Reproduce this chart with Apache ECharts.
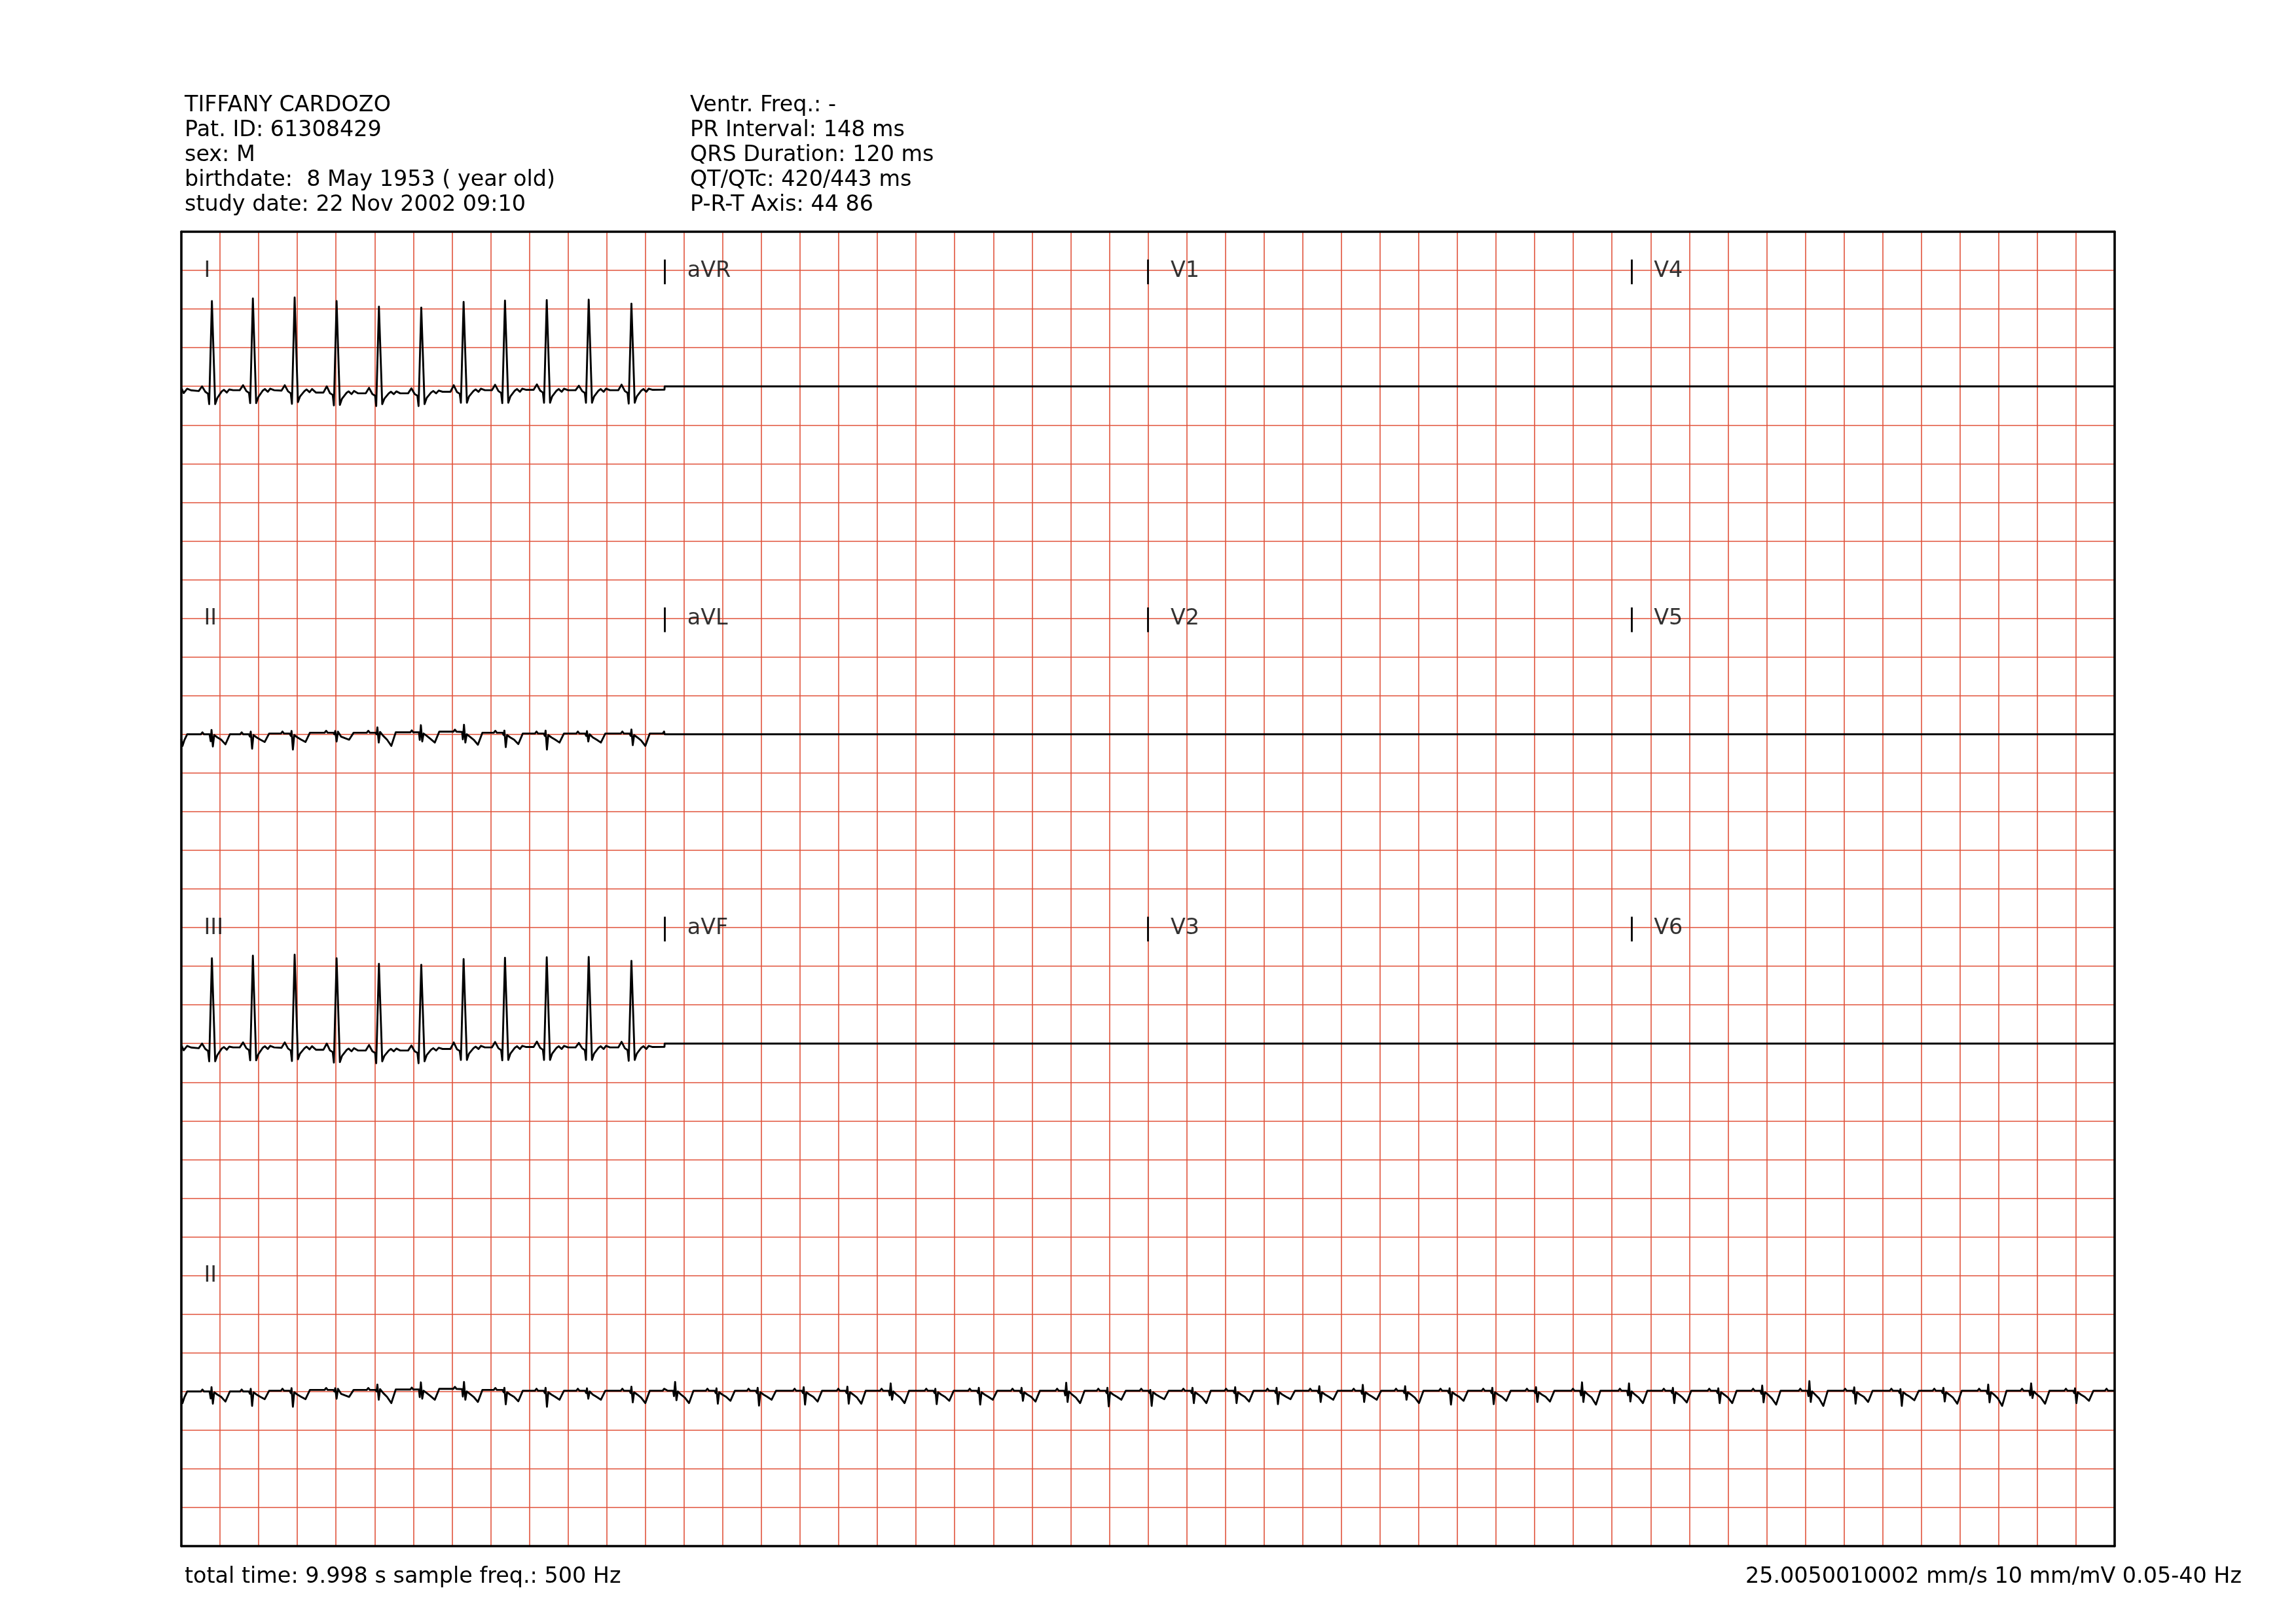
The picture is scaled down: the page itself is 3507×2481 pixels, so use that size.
<!DOCTYPE html>
<html><head><meta charset="utf-8">
<script src="https://cdn.jsdelivr.net/npm/echarts@6/dist/echarts.min.js"></script>
<style>html,body{margin:0;padding:0;background:#fff;}#c{width:3507px;height:2481px;}</style>
</head><body><div id="c"></div>
<script>
// ---------- text ----------
const headerLeft = ['TIFFANY CARDOZO','Pat. ID: 61308429','sex: M','birthdate:  8 May 1953 ( year old)','study date: 22 Nov 2002 09:10'];
const headerRight = ['Ventr. Freq.: -','PR Interval: 148 ms','QRS Duration: 120 ms','QT/QTc: 420/443 ms','P-R-T Axis: 44 86'];
const footerLeft = 'total time: 9.998 s sample freq.: 500 Hz';
const footerRight = '25.0050010002 mm/s 10 mm/mV 0.05-40 Hz';

// ---------- layout of leads ----------
const rowLeads = [['I','aVR','V1','V4'],['II','aVL','V2','V5'],['III','aVF','V3','V6']];
const rhythmLead = 'II';

// ---------- signals (time s, mV) ----------
const leadI = [
[0.000,-0.02],[0.012,-0.087],[0.030,-0.031],[0.050,-0.051],
[0.090,-0.06],[0.107,0.0],[0.124,-0.07],[0.138,-0.095],[0.144,-0.23],[0.158,1.103],[0.175,-0.23],[0.186,-0.15],[0.209,-0.065],[0.220,-0.045],[0.235,-0.08],[0.248,-0.04],[0.268,-0.05],
[0.302,-0.05],[0.319,0.014],[0.336,-0.06],[0.350,-0.085],[0.356,-0.217],[0.370,1.137],[0.387,-0.217],[0.398,-0.14],[0.421,-0.055],[0.432,-0.035],[0.447,-0.07],[0.460,-0.03],[0.480,-0.05],
[0.518,-0.055],[0.535,0.014],[0.552,-0.065],[0.566,-0.09],[0.572,-0.226],[0.586,1.149],[0.603,-0.203],[0.614,-0.13],[0.637,-0.06],[0.648,-0.04],[0.663,-0.075],[0.676,-0.035],[0.696,-0.08],
[0.735,-0.08],[0.752,0.0],[0.769,-0.09],[0.783,-0.11],[0.789,-0.246],[0.803,1.103],[0.820,-0.24],[0.831,-0.16],[0.854,-0.085],[0.865,-0.065],[0.880,-0.1],[0.893,-0.06],[0.913,-0.09],
[0.954,-0.09],[0.971,-0.02],[0.988,-0.1],[1.002,-0.12],[1.008,-0.254],[1.022,1.030],[1.039,-0.23],[1.050,-0.16],[1.073,-0.09],[1.084,-0.07],[1.099,-0.1],[1.112,-0.065],[1.132,-0.09],
[1.173,-0.09],[1.190,-0.025],[1.207,-0.1],[1.221,-0.12],[1.227,-0.254],[1.241,1.019],[1.258,-0.23],[1.269,-0.15],[1.292,-0.08],[1.303,-0.06],[1.318,-0.09],[1.331,-0.055],[1.351,-0.07],
[1.392,-0.07],[1.409,0.014],[1.426,-0.075],[1.440,-0.095],[1.446,-0.212],[1.460,1.092],[1.477,-0.212],[1.488,-0.13],[1.511,-0.06],[1.522,-0.04],[1.537,-0.07],[1.550,-0.03],[1.570,-0.05],
[1.606,-0.05],[1.623,0.02],[1.640,-0.06],[1.654,-0.085],[1.660,-0.217],[1.674,1.109],[1.691,-0.212],[1.702,-0.13],[1.725,-0.055],[1.736,-0.035],[1.751,-0.07],[1.764,-0.03],[1.784,-0.045],
[1.822,-0.045],[1.839,0.025],[1.856,-0.055],[1.870,-0.08],[1.876,-0.212],[1.890,1.115],[1.907,-0.212],[1.918,-0.13],[1.941,-0.055],[1.952,-0.035],[1.967,-0.07],[1.980,-0.03],[2.000,-0.05],
[2.039,-0.05],[2.056,0.008],[2.073,-0.06],[2.087,-0.085],[2.093,-0.212],[2.107,1.121],[2.124,-0.212],[2.135,-0.13],[2.158,-0.055],[2.169,-0.035],[2.184,-0.07],[2.197,-0.03],[2.217,-0.05],
[2.260,-0.05],[2.277,0.022],[2.294,-0.06],[2.308,-0.085],[2.314,-0.223],[2.328,1.070],[2.345,-0.212],[2.356,-0.13],[2.379,-0.055],[2.390,-0.035],[2.405,-0.07],[2.418,-0.03],[2.438,-0.045],[2.499,-0.042]
];
// lead III is drawn identical to lead I in the reference
const leadIII = leadI;

const leadII = [
[0.000,-0.06],[0.006,-0.15],[0.015,-0.08],[0.030,0.0],
[0.101,0.0],[0.109,0.025],[0.117,0.0],[0.146,0.0],[0.152,-0.09],[0.156,0.056],[0.163,-0.158],[0.170,-0.01],[0.186,-0.04],[0.206,-0.07],[0.228,-0.13],[0.251,0.0],
[0.304,0.0],[0.312,0.025],[0.320,0.0],[0.349,0.0],[0.355,-0.03],[0.359,0.034],[0.366,-0.186],[0.373,-0.01],[0.389,-0.04],[0.409,-0.07],[0.431,-0.10],[0.454,0.01],
[0.515,0.01],[0.523,0.035],[0.531,0.01],[0.560,0.01],[0.566,-0.02],[0.570,0.042],[0.577,-0.198],[0.584,-0.01],[0.600,-0.04],[0.620,-0.07],[0.642,-0.10],[0.665,0.02],
[0.741,0.02],[0.749,0.045],[0.757,0.02],[0.786,0.02],[0.792,0.0],[0.796,0.042],[0.803,-0.093],[0.810,0.034],[0.826,-0.03],[0.846,-0.05],[0.868,-0.07],[0.891,0.02],
[0.959,0.02],[0.967,0.045],[0.975,0.02],[1.004,0.02],[1.010,0.0],[1.014,0.09],[1.021,-0.107],[1.028,0.03],[1.044,-0.02],[1.064,-0.07],[1.086,-0.15],[1.109,0.025],
[1.184,0.025],[1.192,0.05],[1.200,0.025],[1.229,0.025],[1.233,-0.073],[1.239,0.118],[1.246,-0.093],[1.253,0.01],[1.269,-0.02],[1.289,-0.06],[1.311,-0.107],[1.334,0.034],
[1.407,0.034],[1.415,0.06],[1.423,0.034],[1.452,0.03],[1.456,-0.065],[1.462,0.124],[1.469,-0.107],[1.476,0.0],[1.492,-0.03],[1.512,-0.07],[1.534,-0.135],[1.557,0.02],
[1.616,0.02],[1.624,0.045],[1.632,0.02],[1.661,0.02],[1.667,-0.01],[1.671,0.048],[1.678,-0.166],[1.685,-0.01],[1.701,-0.04],[1.721,-0.07],[1.743,-0.127],[1.766,0.01],
[1.829,0.01],[1.837,0.035],[1.845,0.01],[1.874,0.01],[1.880,-0.02],[1.884,0.048],[1.891,-0.198],[1.898,-0.01],[1.914,-0.04],[1.934,-0.07],[1.956,-0.107],[1.979,0.01],
[2.043,0.01],[2.051,0.035],[2.059,0.01],[2.088,0.01],[2.094,-0.02],[2.098,0.04],[2.105,-0.093],[2.112,0.0],[2.128,-0.04],[2.148,-0.07],[2.170,-0.107],[2.193,0.01],
[2.273,0.01],[2.281,0.035],[2.289,0.01],[2.318,0.01],[2.324,-0.02],[2.328,0.062],[2.335,-0.141],[2.342,-0.01],[2.358,-0.04],[2.378,-0.08],[2.400,-0.15],[2.423,0.01],
[2.490,0.01],[2.497,0.035],[2.515,0.01],[2.544,0.01],[2.548,-0.06],[2.554,0.124],[2.561,-0.113],[2.568,0.0],[2.584,-0.04],[2.604,-0.08],[2.626,-0.15],[2.649,0.01],
[2.713,0.01],[2.721,0.035],[2.729,0.01],[2.758,0.01],[2.764,-0.02],[2.768,0.04],[2.775,-0.158],[2.782,-0.01],[2.798,-0.04],[2.818,-0.07],[2.840,-0.121],[2.863,0.01],
[2.926,0.01],[2.934,0.035],[2.942,0.01],[2.971,0.01],[2.977,-0.02],[2.981,0.048],[2.988,-0.183],[2.995,-0.01],[3.011,-0.04],[3.031,-0.07],[3.053,-0.107],[3.076,0.01],
[3.164,0.01],[3.172,0.035],[3.180,0.01],[3.209,0.01],[3.215,-0.02],[3.219,0.056],[3.226,-0.169],[3.233,-0.01],[3.249,-0.04],[3.269,-0.07],[3.291,-0.13],[3.314,0.01],
[3.390,0.01],[3.398,0.035],[3.406,0.01],[3.435,0.01],[3.441,-0.02],[3.445,0.062],[3.452,-0.158],[3.459,-0.01],[3.475,-0.04],[3.495,-0.08],[3.517,-0.158],[3.540,0.01],
[3.614,0.01],[3.622,0.035],[3.630,0.01],[3.659,0.01],[3.664,-0.05],[3.669,0.104],[3.676,-0.107],[3.683,0.0],[3.699,-0.04],[3.719,-0.08],[3.741,-0.15],[3.764,0.01],
[3.845,0.01],[3.853,0.035],[3.861,0.01],[3.890,0.01],[3.896,-0.02],[3.900,0.034],[3.907,-0.164],[3.914,-0.01],[3.930,-0.04],[3.950,-0.07],[3.972,-0.121],[3.995,0.01],
[4.070,0.01],[4.078,0.035],[4.086,0.01],[4.115,0.01],[4.121,-0.02],[4.125,0.048],[4.132,-0.169],[4.139,-0.01],[4.155,-0.04],[4.175,-0.07],[4.197,-0.107],[4.220,0.01],
[4.291,0.01],[4.299,0.035],[4.307,0.01],[4.336,0.01],[4.342,-0.02],[4.346,0.048],[4.353,-0.121],[4.360,-0.01],[4.376,-0.04],[4.396,-0.07],[4.418,-0.13],[4.441,0.01],
[4.522,0.01],[4.530,0.035],[4.538,0.01],[4.567,0.01],[4.572,-0.05],[4.577,0.113],[4.584,-0.135],[4.591,0.0],[4.607,-0.04],[4.627,-0.08],[4.649,-0.15],[4.672,0.01],
[4.735,0.01],[4.743,0.035],[4.751,0.01],[4.780,0.01],[4.786,-0.02],[4.790,0.048],[4.797,-0.192],[4.804,-0.01],[4.820,-0.04],[4.840,-0.07],[4.862,-0.107],[4.885,0.01],
[4.957,0.01],[4.965,0.035],[4.973,0.01],[5.002,0.01],[5.008,-0.02],[5.012,0.02],[5.019,-0.186],[5.026,-0.01],[5.042,-0.04],[5.062,-0.07],[5.084,-0.10],[5.107,0.01],
[5.175,0.01],[5.183,0.035],[5.191,0.01],[5.220,0.01],[5.226,-0.02],[5.230,0.048],[5.237,-0.15],[5.244,-0.01],[5.260,-0.04],[5.280,-0.08],[5.302,-0.15],[5.325,0.01],
[5.396,0.01],[5.404,0.035],[5.412,0.01],[5.441,0.01],[5.447,-0.02],[5.451,0.056],[5.458,-0.15],[5.465,-0.01],[5.481,-0.04],[5.501,-0.07],[5.523,-0.13],[5.546,0.01],
[5.610,0.01],[5.618,0.035],[5.626,0.01],[5.655,0.01],[5.661,-0.02],[5.665,0.048],[5.672,-0.164],[5.679,-0.01],[5.695,-0.04],[5.715,-0.07],[5.737,-0.10],[5.760,0.01],
[5.831,0.01],[5.839,0.035],[5.847,0.01],[5.876,0.01],[5.882,-0.02],[5.886,0.068],[5.893,-0.135],[5.900,-0.01],[5.916,-0.04],[5.936,-0.07],[5.958,-0.107],[5.981,0.01],
[6.056,0.01],[6.064,0.035],[6.072,0.01],[6.101,0.01],[6.107,-0.03],[6.111,0.085],[6.118,-0.135],[6.125,-0.01],[6.141,-0.04],[6.161,-0.07],[6.183,-0.107],[6.206,0.01],
[6.275,0.01],[6.283,0.035],[6.291,0.01],[6.320,0.01],[6.326,-0.02],[6.330,0.068],[6.337,-0.107],[6.344,-0.01],[6.360,-0.04],[6.380,-0.08],[6.402,-0.15],[6.425,0.01],
[6.505,0.01],[6.513,0.035],[6.521,0.01],[6.550,0.01],[6.556,-0.02],[6.560,0.04],[6.567,-0.169],[6.574,-0.01],[6.590,-0.04],[6.610,-0.07],[6.632,-0.121],[6.655,0.01],
[6.726,0.01],[6.734,0.035],[6.742,0.01],[6.771,0.01],[6.777,-0.02],[6.781,0.048],[6.788,-0.164],[6.795,-0.01],[6.811,-0.04],[6.831,-0.07],[6.853,-0.121],[6.876,0.01],
[6.952,0.01],[6.960,0.035],[6.968,0.01],[6.997,0.01],[7.003,-0.02],[7.007,0.056],[7.014,-0.135],[7.021,-0.01],[7.037,-0.04],[7.057,-0.07],[7.079,-0.13],[7.102,0.01],
[7.190,0.01],[7.198,0.035],[7.206,0.01],[7.235,0.01],[7.240,-0.05],[7.245,0.118],[7.252,-0.135],[7.259,0.0],[7.275,-0.04],[7.295,-0.08],[7.317,-0.169],[7.340,0.01],
[7.433,0.01],[7.441,0.035],[7.449,0.01],[7.478,0.01],[7.483,-0.05],[7.488,0.104],[7.495,-0.13],[7.502,0.0],[7.518,-0.04],[7.538,-0.08],[7.560,-0.15],[7.583,0.01],
[7.660,0.01],[7.668,0.035],[7.676,0.01],[7.705,0.01],[7.711,-0.02],[7.715,0.048],[7.722,-0.15],[7.729,-0.01],[7.745,-0.04],[7.765,-0.08],[7.787,-0.141],[7.810,0.01],
[7.895,0.01],[7.903,0.035],[7.911,0.01],[7.940,0.01],[7.946,-0.02],[7.950,0.04],[7.957,-0.15],[7.964,-0.01],[7.980,-0.04],[8.000,-0.08],[8.022,-0.15],[8.045,0.01],
[8.122,0.01],[8.130,0.035],[8.138,0.01],[8.167,0.01],[8.173,-0.03],[8.177,0.076],[8.184,-0.141],[8.191,-0.01],[8.207,-0.04],[8.227,-0.09],[8.249,-0.169],[8.272,0.01],
[8.366,0.01],[8.374,0.035],[8.382,0.01],[8.411,0.01],[8.416,-0.06],[8.421,0.133],[8.428,-0.135],[8.435,0.0],[8.451,-0.04],[8.471,-0.09],[8.493,-0.186],[8.516,0.01],
[8.598,0.01],[8.606,0.035],[8.614,0.01],[8.643,0.01],[8.649,-0.02],[8.653,0.054],[8.660,-0.158],[8.667,-0.01],[8.683,-0.04],[8.703,-0.07],[8.725,-0.135],[8.748,0.01],
[8.837,0.01],[8.845,0.035],[8.853,0.01],[8.882,0.01],[8.888,-0.02],[8.892,0.03],[8.899,-0.186],[8.906,-0.01],[8.922,-0.04],[8.942,-0.07],[8.964,-0.113],[8.987,0.01],
[9.059,0.01],[9.067,0.035],[9.075,0.01],[9.104,0.01],[9.110,-0.02],[9.114,0.048],[9.121,-0.13],[9.128,-0.01],[9.144,-0.04],[9.164,-0.08],[9.186,-0.158],[9.209,0.01],
[9.291,0.01],[9.299,0.035],[9.307,0.01],[9.336,0.01],[9.342,-0.03],[9.346,0.09],[9.353,-0.141],[9.360,-0.01],[9.376,-0.04],[9.396,-0.09],[9.418,-0.186],[9.441,0.01],
[9.513,0.01],[9.521,0.035],[9.529,0.01],[9.558,0.01],[9.563,-0.05],[9.568,0.104],[9.575,-0.085],[9.582,0.0],[9.598,-0.04],[9.618,-0.08],[9.640,-0.158],[9.663,0.01],
[9.740,0.01],[9.748,0.035],[9.756,0.01],[9.785,0.01],[9.791,-0.02],[9.795,0.04],[9.802,-0.15],[9.809,-0.01],[9.825,-0.04],[9.845,-0.07],[9.867,-0.121],[9.890,0.01],
[9.950,0.01],[9.958,0.035],[9.966,0.01],[9.998,0.01]
];
// leads with no signal (flat at 0 mV) over their 2.5 s window
const leadAVR = [[0,0],[2.5,0]];
const leadAVL = [[0,0],[2.5,0]];
const leadAVF = [[0,0],[2.5,0]];
const leadV1 = [[0,0],[2.5,0]];
const leadV2 = [[0,0],[2.5,0]];
const leadV3 = [[0,0],[2.5,0]];
const leadV4 = [[0,0],[2.5,0]];
const leadV5 = [[0,0],[2.5,0]];
const leadV6 = [[0,0],[2.5,0]];

const leadData = {I:leadI, II:leadII, III:leadIII, aVR:leadAVR, aVL:leadAVL, aVF:leadAVF,
  V1:leadV1, V2:leadV2, V3:leadV3, V4:leadV4, V5:leadV5, V6:leadV6};

// ---------- geometry (paper units) ----------
const colSpan = 2.5;               // seconds per column
const rowBase = [15, 10.5, 6.5];   // baseline of each lead row (mV on paper)
const rhythmBase = 2;
const FONT = 'DejaVu Sans';
const FS = 33.4;
const gridRed = '#e0523a';
const traceW = 2.9;

const series = [];
const labels = [];
const seps = [];
rowLeads.forEach((names, r) => {
  const pts = [];
  names.forEach((nm, c) => {
    leadData[nm].forEach(p => { if (p[0] <= colSpan) pts.push([p[0] + c*colSpan, p[1] + rowBase[r]]); });
    labels.push([c*colSpan + 0.115, rowBase[r] + 1.49, nm]);
    if (c > 0) seps.push({coords: [[c*colSpan, rowBase[r] + 1.32], [c*colSpan, rowBase[r] + 1.64]]});
  });
  series.push({type:'line', data: pts, showSymbol:false, symbol:'none', silent:true, z:5,
    lineStyle:{color:'#000', width:traceW, join:'round'}});
});
series.push({type:'line', data: leadData[rhythmLead].map(p => [p[0], p[1] + rhythmBase]), showSymbol:false, symbol:'none', silent:true, z:5,
  lineStyle:{color:'#000', width:traceW, join:'round'}});
labels.push([0.115, rhythmBase + 1.49, rhythmLead]);

series.push({type:'scatter', data: labels, symbolSize:1, silent:true, z:6,
  itemStyle:{color:'rgba(0,0,0,0)'},
  label:{show:true, position:'right', distance:0, formatter: p => p.data[2],
    fontFamily:FONT, fontSize:FS, color:'#000'}});
series.push({type:'lines', coordinateSystem:'cartesian2d', data: seps, silent:true, z:6,
  lineStyle:{color:'#000', width:2.8, opacity:1}});

const graphics = [];
headerLeft.forEach((t,i) => graphics.push({type:'text', x:282, y:161 + i*38.2,
  style:{text:t, fontFamily:FONT, fontSize:FS, fill:'#000', align:'left', verticalAlign:'middle'}}));
headerRight.forEach((t,i) => graphics.push({type:'text', x:1054, y:161 + i*38.2,
  style:{text:t, fontFamily:FONT, fontSize:FS, fill:'#000', align:'left', verticalAlign:'middle'}}));
graphics.push({type:'text', x:282, y:2409, style:{text:footerLeft, fontFamily:FONT, fontSize:FS, fill:'#000', align:'left', verticalAlign:'middle'}});
graphics.push({type:'text', x:3424, y:2409, style:{text:footerRight, fontFamily:FONT, fontSize:FS, fill:'#000', align:'right', verticalAlign:'middle'}});

const frameLine = {show:true, onZero:false, lineStyle:{color:'#000', width:3.6}};
const chart = echarts.init(document.getElementById('c'), null, {renderer:'canvas'});
chart.setOption({
  animation:false,
  backgroundColor:'#fff',
  grid:{left:277, right:277, top:354, bottom:119},
  xAxis:[
    {type:'value', min:0, max:10, interval:0.2, position:'bottom', axisLine:frameLine, axisTick:{show:false}, axisLabel:{show:false},
     splitLine:{show:true, showMinLine:false, showMaxLine:false, lineStyle:{color:gridRed, width:1.6}}},
    {type:'value', min:0, max:10, interval:0.2, position:'top', axisLine:frameLine, axisTick:{show:false}, axisLabel:{show:false}, splitLine:{show:false}}
  ],
  yAxis:[
    {type:'value', min:0, max:17, interval:0.5, position:'left', axisLine:frameLine, axisTick:{show:false}, axisLabel:{show:false},
     splitLine:{show:true, showMinLine:false, showMaxLine:false, lineStyle:{color:gridRed, width:1.6}}},
    {type:'value', min:0, max:17, interval:0.5, position:'right', axisLine:frameLine, axisTick:{show:false}, axisLabel:{show:false}, splitLine:{show:false}}
  ],
  series: series,
  graphic: graphics
});
</script></body></html>
